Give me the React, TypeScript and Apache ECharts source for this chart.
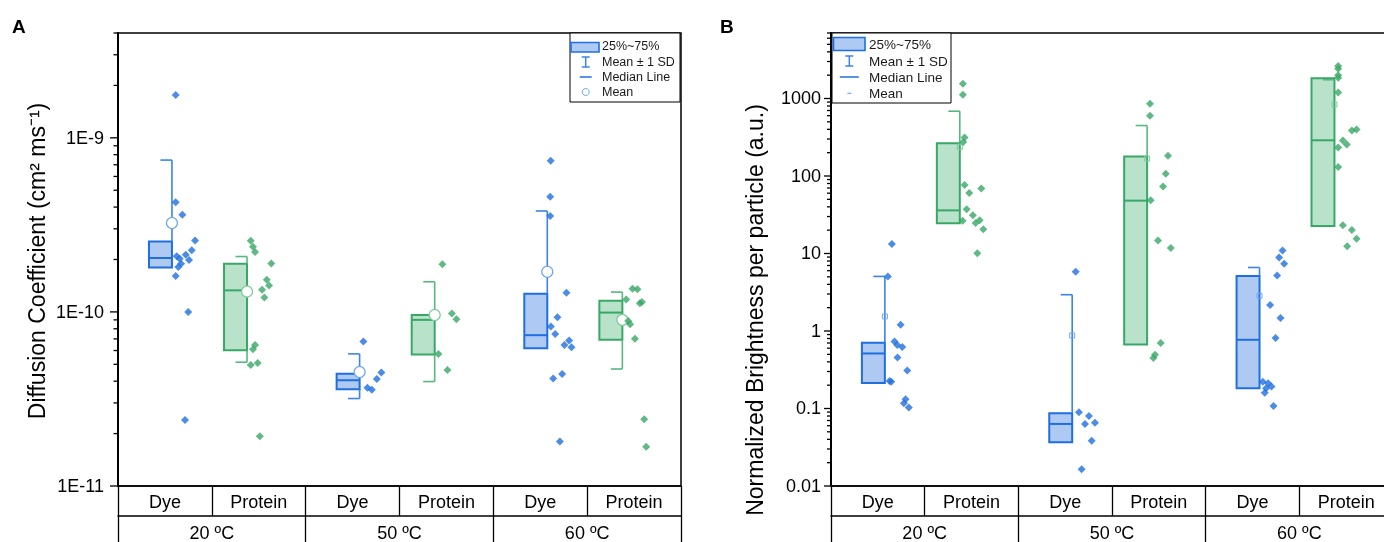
import React, { useEffect, useRef } from 'react';
import * as echarts from 'echarts';

// ---------- categories / labels ----------
const groups = ['20 ºC', '50 ºC', '60 ºC'];
const samples = ['Dye', 'Protein', 'Dye', 'Protein', 'Dye', 'Protein'];
const legendLabels = ['25%~75%', 'Mean ± 1 SD', 'Median Line', 'Mean'];
const titleA = 'Diffusion Coefficient (cm² ms⁻¹)';
const titleB = 'Normalized Brightness per particle (a.u.)';

// ---------- Panel A: box statistics per column (Dye20, Prot20, Dye50, Prot50, Dye60, Prot60) ----------
const aQ1 = [1.8e-10, 6.03e-11, 3.59e-11, 5.69e-11, 6.19e-11, 6.93e-11];
const aMedian = [2.04e-10, 1.33e-10, 4.05e-11, 9.0e-11, 7.35e-11, 9.91e-11];
const aQ3 = [2.54e-10, 1.89e-10, 4.42e-11, 9.6e-11, 1.27e-10, 1.16e-10];
const aMean = [3.24e-10, 1.31e-10, 4.52e-11, 9.6e-11, 1.7e-10, 9.0e-11];
const aSdLow = [null, 5.14e-11, 3.18e-11, 3.98e-11, null, 4.7e-11];
const aSdHigh = [7.45e-10, 2.08e-10, 5.74e-11, 1.49e-10, 3.8e-10, 1.3e-10];

// raw points: [offset within category, value]
const aDye20 = [[0.115, 1.76e-9], [0.115, 4.27e-10], [0.186, 3.62e-10], [0.321, 2.57e-10], [0.286, 2.26e-10], [0.222, 2.13e-10], [0.126, 2.09e-10], [0.158, 2.02e-10], [0.257, 1.99e-10], [0.172, 1.89e-10], [0.143, 1.81e-10], [0.115, 1.61e-10], [0.249, 1.0e-10], [0.214, 2.39e-11]];
const aProt20 = [[-0.085, 2.56e-10], [-0.061, 2.37e-10], [-0.039, 2.21e-10], [0.134, 1.9e-10], [0.085, 1.53e-10], [0.11, 1.42e-10], [0.035, 1.34e-10], [0.06, 1.21e-10], [-0.039, 6.46e-11], [-0.061, 6.11e-11], [-0.085, 4.96e-11], [-0.011, 5.09e-11], [0.011, 1.93e-11]];
const aDye50 = [[0.115, 6.75e-11], [0.307, 4.48e-11], [0.258, 4.12e-11], [0.158, 3.67e-11], [0.205, 3.57e-11]];
const aProt50 = [[-0.043, 1.88e-10], [0.058, 9.78e-11], [0.107, 9.08e-11], [-0.085, 5.74e-11], [0.011, 4.64e-11]];
const aDye60 = [[0.111, 7.38e-10], [0.106, 4.58e-10], [0.106, 3.56e-10], [0.279, 1.29e-10], [0.183, 9.32e-11], [0.113, 8.24e-11], [0.159, 7.47e-11], [0.308, 6.84e-11], [0.258, 6.46e-11], [0.333, 6.27e-11], [0.233, 4.4e-11], [0.138, 4.14e-11], [0.209, 1.8e-11]];
const aProt60 = [[-0.017, 1.36e-10], [0.036, 1.35e-10], [-0.084, 1.18e-10], [0.062, 1.12e-10], [0.083, 1.14e-10], [-0.063, 8.88e-11], [-0.042, 8.5e-11], [0.009, 7.02e-11], [0.108, 2.42e-11], [0.129, 1.68e-11]];

// ---------- Panel B ----------
const bQ1 = [0.214, 24.5, 0.0367, 0.67, 0.183, 22.6];
const bMedian = [0.513, 36, 0.0632, 48.1, 0.77, 289];
const bQ3 = [0.705, 265, 0.0869, 178, 5.12, 1830];
const bMean = [1.54, 238, 0.875, 168, 2.85, 837];
const bSdLow = [null, null, null, null, null, null];
const bSdHigh = [5.06, 686, 2.94, 448, 6.6, 1745];

const bDye20 = [[0.15, 13.3], [0.107, 5.06], [0.243, 1.2], [0.178, 0.73], [0.207, 0.66], [0.261, 0.62], [0.21, 0.455], [0.314, 0.309], [0.125, 0.227], [0.143, 0.222], [0.296, 0.132], [0.278, 0.117], [0.331, 0.103]];
const bProt20 = [[-0.092, 1549], [-0.092, 1117], [-0.074, 313], [-0.088, 275], [-0.074, 76.7], [-0.024, 60.5], [0.105, 68.8], [-0.052, 37.2], [0.015, 31.1], [0.044, 24.8], [0.087, 26.8], [-0.095, 26.5], [0.126, 20.5], [0.062, 10.1]];
const bDye50 = [[0.112, 5.82], [0.147, 0.0896], [0.254, 0.08], [0.212, 0.0632], [0.318, 0.0657], [0.283, 0.0385], [0.176, 0.0164]];
const bProt50 = [[-0.094, 854], [-0.094, 598], [0.098, 182], [0.074, 107], [0.045, 73], [-0.087, 48.5], [-0.009, 14.7], [0.127, 11.8], [0.02, 0.698], [-0.041, 0.493], [-0.058, 0.447]];
const bDye60 = [[0.321, 10.96], [0.284, 8.9], [0.338, 7.38], [0.263, 5.21], [0.188, 2.16], [0.299, 1.47], [0.246, 0.81], [0.11, 0.222], [0.167, 0.212], [0.203, 0.192], [0.145, 0.183], [0.131, 0.16], [0.224, 0.108]];
const bProt60 = [[-0.085, 2617], [-0.085, 2420], [-0.085, 2000], [-0.085, 1850], [-0.085, 1196], [0.111, 398], [0.061, 386], [-0.035, 287], [0.007, 255], [-0.085, 233], [-0.085, 131], [-0.035, 23.1], [0.061, 20.1], [0.111, 15.5], [0.011, 12.4]];

const aPoints = [aDye20, aProt20, aDye50, aProt50, aDye60, aProt60];
const bPoints = [bDye20, bProt20, bDye50, bProt50, bDye60, bProt60];

// ---------- styles ----------
const FONT = '"Liberation Sans", Arial, sans-serif';
const BLUE = { dark: '#1f6fe0', fill: '#aecaf3', whisker: '#3a83ea', mean: '#6fa6ef' };
const GREEN = { dark: '#38a866', fill: '#b9e2cb', whisker: '#55b87f', mean: '#7fc99c' };
const DYE_BOX = [-0.17, 0.075];
const PROT_BOX = [-0.37, -0.125];

function logTicks(min: number, max: number) {
  const out: number[][] = [];
  for (let e = Math.floor(Math.log10(min)); e <= Math.ceil(Math.log10(max)); e++) {
    for (let k = 1; k <= 9; k++) {
      const v = k * Math.pow(10, e);
      if (v >= min * 0.999 && v <= max * 1.001) out.push([-0.5, v, k === 1 ? 1 : 0]);
    }
  }
  return out;
}

function isPow10(v: number) {
  const e = Math.log10(v);
  return Math.abs(e - Math.round(e)) < 1e-6;
}

function buildPanel(
  xBase: number,
  yIdx: number,
  stats: { q1: number[]; med: number[]; q3: number[]; mean: number[]; lo: (number | null)[]; hi: (number | null)[] },
  points: number[][][],
  yMin: number,
  yMax: number,
  majorLen: number,
  minorLen: number,
  meanStyle: 'circle' | 'square'
) {
  const series: any[] = [];
  series.push({
    type: 'custom',
    xAxisIndex: xBase,
    yAxisIndex: yIdx,
    clip: false,
    silent: true,
    z: 10,
    data: logTicks(yMin, yMax),
    encode: { x: 0, y: 1 },
    renderItem: (params: any, api: any) => {
      const p = api.coord([api.value(0), api.value(1)]);
      const len = api.value(2) ? majorLen : minorLen;
      return {
        type: 'line',
        shape: { x1: p[0] - len, y1: p[1], x2: p[0], y2: p[1] },
        style: { stroke: '#000', lineWidth: 1.3 },
      };
    },
  });
  series.push({
    type: 'custom',
    xAxisIndex: xBase,
    yAxisIndex: yIdx,
    silent: true,
    z: 3,
    data: stats.q3.map((v, i) => [i, v]),
    encode: { x: 0, y: 1 },
    renderItem: (params: any, api: any) => {
      const i = params.dataIndex;
      const c = i % 2 === 0 ? BLUE : GREEN;
      const [l, r] = i % 2 === 0 ? DYE_BOX : PROT_BOX;
      const X = (off: number) => api.coord([i + off, stats.q3[i]])[0];
      const Y = (v: number) => api.coord([i, v])[1];
      const xl = X(l);
      const xr = X(r);
      const xc = (xl + xr) / 2;
      const yq1 = Y(stats.q1[i]);
      const yq3 = Y(stats.q3[i]);
      const ym = Y(stats.med[i]);
      const children: any[] = [];
      children.push({ type: 'rect', shape: { x: xl, y: yq3, width: xr - xl, height: yq1 - yq3 }, style: { fill: c.fill, stroke: c.dark, lineWidth: 2 } });
      children.push({ type: 'line', shape: { x1: xl, y1: ym, x2: xr, y2: ym }, style: { stroke: c.dark, lineWidth: 2 } });
      const hi = stats.hi[i];
      const lo = stats.lo[i];
      if (hi != null) {
        const yh = Y(hi);
        if (hi > stats.q3[i]) children.push({ type: 'line', shape: { x1: xr, y1: yh, x2: xr, y2: yq3 }, style: { stroke: c.whisker, lineWidth: 1.6 } });
        children.push({ type: 'line', shape: { x1: xc, y1: yh, x2: xr, y2: yh }, style: { stroke: c.whisker, lineWidth: 1.6 } });
      }
      if (lo != null) {
        const yl = Y(lo);
        if (lo < stats.q1[i]) children.push({ type: 'line', shape: { x1: xr, y1: yq1, x2: xr, y2: yl }, style: { stroke: c.whisker, lineWidth: 1.6 } });
        children.push({ type: 'line', shape: { x1: xc, y1: yl, x2: xr, y2: yl }, style: { stroke: c.whisker, lineWidth: 1.6 } });
      }
      const yMean = Y(stats.mean[i]);
      if (meanStyle === 'circle') {
        children.push({ type: 'circle', shape: { cx: xr, cy: yMean, r: 5.5 }, style: { fill: '#fff', stroke: c.mean, lineWidth: 1.2 } });
      } else {
        children.push({ type: 'rect', shape: { x: xr - 2.5, y: yMean - 2.5, width: 5, height: 5 }, style: { fill: 'none', stroke: c.mean, lineWidth: 1 } });
      }
      return { type: 'group', children };
    },
  });
  [0, 1].forEach((kind) => {
    const c = kind === 0 ? BLUE : GREEN;
    const data: number[][] = [];
    points.forEach((col, i) => {
      if (i % 2 !== kind) return;
      col.forEach(([off, v]) => data.push([i + off, v]));
    });
    series.push({
      type: 'scatter',
      xAxisIndex: xBase,
      yAxisIndex: yIdx,
      symbol: 'diamond',
      symbolSize: 8,
      itemStyle: { color: c.dark },
      z: 5,
      silent: true,
      data,
    });
  });
  return series;
}

function catAxes(gi: number) {
  const common = {
    type: 'category',
    gridIndex: gi,
    position: 'bottom',
    axisLine: { show: true, onZero: false, lineStyle: { color: '#000', width: 1.5 } },
    axisTick: { show: true, interval: 0, length: 30, lineStyle: { color: '#000', width: 1.3 } },
    splitLine: { show: false },
  };
  return [
    { type: 'value', gridIndex: gi, min: -0.5, max: 5.5, show: false },
    { ...common, data: samples, axisLabel: { interval: 0, margin: 7, fontSize: 18, color: '#000', fontFamily: FONT } },
    { ...common, offset: 30, data: groups, axisLabel: { interval: 0, margin: 8, fontSize: 18, color: '#000', fontFamily: FONT } },
  ];
}

function legend(x: number, w: number, h: number, sw: number[], textX: number, ys: number[], iconX: number, fs: number, meanStyle: 'circle' | 'dash') {
  const els: any[] = [];
  els.push({ type: 'rect', shape: { x, y: 33, width: w, height: h }, style: { fill: '#fff', stroke: '#000', lineWidth: 1 }, z: 50 });
  els.push({ type: 'rect', shape: { x: sw[0], y: sw[1], width: sw[2], height: sw[3] }, style: { fill: BLUE.fill, stroke: BLUE.dark, lineWidth: 1.6 }, z: 51 });
  legendLabels.forEach((t, k) => {
    els.push({ type: 'text', x: textX, y: ys[k], style: { text: t, font: `${fs}px ${FONT}`, fill: '#1a1a1a', align: 'left', verticalAlign: 'middle', textAlign: 'left', textVerticalAlign: 'middle' }, z: 51 });
  });
  const y1 = ys[1] - 5;
  const y2 = ys[1] + 5;
  els.push({ type: 'line', shape: { x1: iconX, y1, x2: iconX, y2 }, style: { stroke: BLUE.whisker, lineWidth: 1.5 }, z: 51 });
  els.push({ type: 'line', shape: { x1: iconX - 4, y1, x2: iconX + 4, y2: y1 }, style: { stroke: BLUE.whisker, lineWidth: 1.5 }, z: 51 });
  els.push({ type: 'line', shape: { x1: iconX - 4, y1: y2, x2: iconX + 4, y2 }, style: { stroke: BLUE.whisker, lineWidth: 1.5 }, z: 51 });
  const half = meanStyle === 'circle' ? 6 : 9.5;
  els.push({ type: 'line', shape: { x1: iconX - half, y1: ys[2], x2: iconX + half, y2: ys[2] }, style: { stroke: BLUE.dark, lineWidth: 1.5 }, z: 51 });
  if (meanStyle === 'circle') {
    els.push({ type: 'circle', shape: { cx: iconX, cy: ys[3], r: 3.5 }, style: { fill: '#fff', stroke: BLUE.mean, lineWidth: 1 }, z: 51 });
  } else {
    els.push({ type: 'line', shape: { x1: iconX - 2, y1: ys[3], x2: iconX + 2, y2: ys[3] }, style: { stroke: BLUE.mean, lineWidth: 1.2 }, z: 51 });
  }
  return els;
}

function rotatedTitle(text: string, x: number, y: number, fs: number) {
  return {
    type: 'text',
    x,
    y,
    rotation: Math.PI / 2,
    style: { text, font: `${fs}px ${FONT}`, fill: '#000', align: 'center', verticalAlign: 'middle', textAlign: 'center', textVerticalAlign: 'middle' },
    z: 20,
  };
}

export default function App() {
  const ref = useRef<HTMLDivElement>(null);
  useEffect(() => {
    if (!ref.current) return;
    const chart = echarts.init(ref.current, null, { renderer: 'svg' });
    const yCommon = {
      type: 'log',
      logBase: 10,
      axisLine: { show: true, onZero: false, lineStyle: { color: '#000', width: 2 } },
      axisTick: { show: false },
      splitLine: { show: false },
      minorTick: { show: false },
    };
    const option: any = {
      animation: false,
      textStyle: { fontFamily: FONT },
      grid: [
        { left: 118, top: 33, width: 563, height: 453, show: true, borderColor: '#000', borderWidth: 1.5, backgroundColor: 'transparent', containLabel: false, outerBoundsMode: 'none' },
        { left: 831, top: 33, width: 562, height: 453, show: true, borderColor: '#000', borderWidth: 1.5, backgroundColor: 'transparent', containLabel: false, outerBoundsMode: 'none' },
      ],
      xAxis: [...catAxes(0), ...catAxes(1)],
      yAxis: [
        {
          ...yCommon,
          gridIndex: 0,
          min: 1e-11,
          max: 4e-9,
          axisLabel: {
            margin: 14,
            fontSize: 18,
            color: '#000',
            fontFamily: FONT,
            formatter: (v: number) => (isPow10(v) ? `1E${Math.round(Math.log10(v))}` : ''),
          },
        },
        {
          ...yCommon,
          gridIndex: 1,
          min: 0.01,
          max: 7000,
          axisLabel: {
            margin: 10,
            fontSize: 18,
            color: '#000',
            fontFamily: FONT,
            formatter: (v: number) => {
              if (!isPow10(v)) return '';
              const e = Math.round(Math.log10(v));
              return e >= 0 ? String(Math.pow(10, e)) : Math.pow(10, e).toFixed(-e);
            },
          },
        },
      ],
      series: [
        ...buildPanel(0, 0, { q1: aQ1, med: aMedian, q3: aQ3, mean: aMean, lo: aSdLow, hi: aSdHigh }, aPoints, 1e-11, 4e-9, 8, 4.5, 'circle'),
        ...buildPanel(3, 1, { q1: bQ1, med: bMedian, q3: bQ3, mean: bMean, lo: bSdLow, hi: bSdHigh }, bPoints, 0.01, 7000, 7, 4, 'square'),
      ],
      graphic: [
        { type: 'text', x: 12, y: 26, style: { text: 'A', font: `bold 19px ${FONT}`, fill: '#000', align: 'left', verticalAlign: 'middle', textAlign: 'left', textVerticalAlign: 'middle' } },
        { type: 'text', x: 720, y: 26, style: { text: 'B', font: `bold 19px ${FONT}`, fill: '#000', align: 'left', verticalAlign: 'middle', textAlign: 'left', textVerticalAlign: 'middle' } },
        rotatedTitle(titleA, 37, 261, 23),
        rotatedTitle(titleB, 755, 310, 23),
        ...legend(570, 110, 69, [571, 42.5, 28, 9.5], 602, [46, 62, 77, 92], 585.7, 12.5, 'circle'),
        ...legend(832, 119, 70, [833.5, 37.5, 31.5, 13], 869, [44, 61, 77, 93.3], 849.3, 13.5, 'dash'),
      ],
    };
    chart.setOption(option);
    return () => chart.dispose();
  }, []);
  return <div ref={ref} style={{ position: 'fixed', left: 0, top: 0, width: 1384, height: 542 }} />;
}
